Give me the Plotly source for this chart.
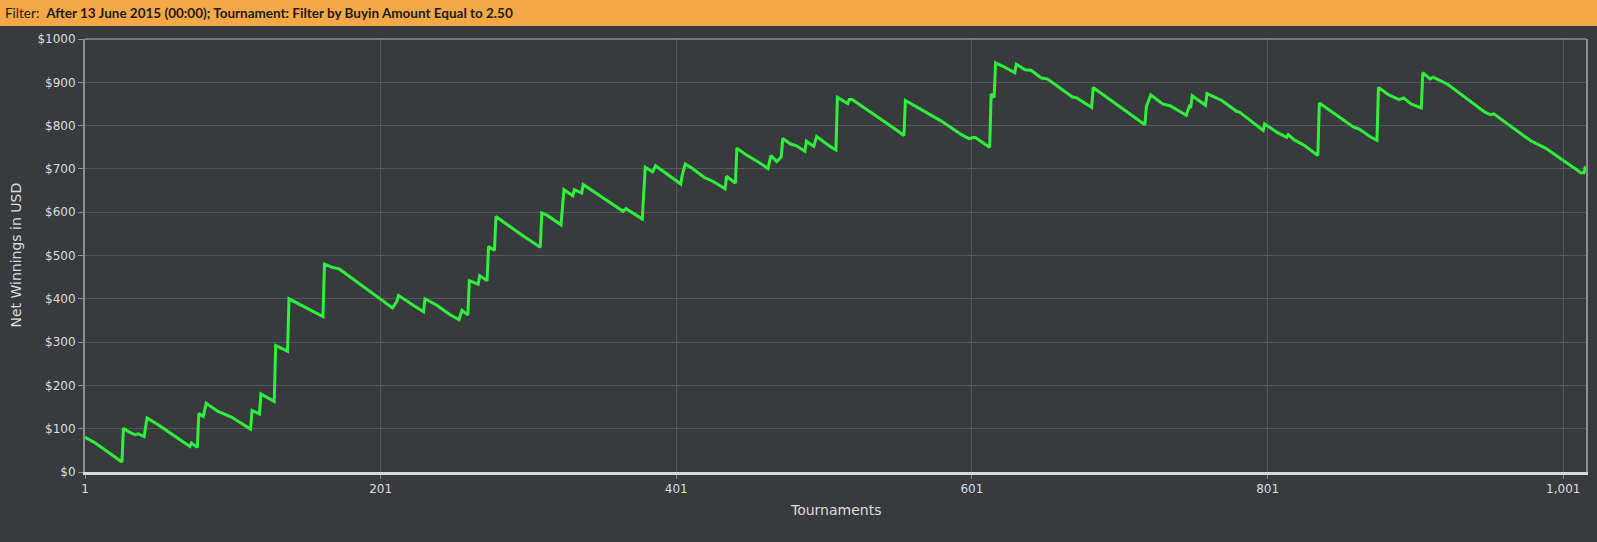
import plotly.graph_objects as go

# ---- data ----
tournament = [1, 8, 26, 27, 31, 35, 37, 41, 43, 51, 68, 72, 73, 77, 78, 81, 83, 91, 100, 113,
              114, 119, 120, 129, 130, 138, 139, 145, 156, 162, 163, 168, 173, 200, 209, 212,
              213, 223, 230, 231, 239, 248, 254, 256, 260, 261, 267, 268, 273, 274, 278, 279,
              297, 309, 310, 314, 323, 325, 331, 332, 337, 338, 350, 365, 367, 378, 380, 385,
              387, 404, 405, 407, 411, 420, 426, 434, 435, 441, 442, 448, 457, 463, 465, 469,
              472, 473, 478, 482, 488, 489, 494, 496, 505, 509, 510, 517, 518, 520, 549, 555,
              556, 564, 571, 580, 594, 599, 603, 604, 613, 614, 616, 617, 622, 630, 631, 637,
              641, 648, 652, 669, 672, 682, 683, 718, 719, 722, 730, 735, 746, 748, 749, 750,
              759, 760, 770, 780, 782, 798, 799, 808, 814, 815, 819, 826, 835, 836, 859, 863,
              871, 875, 876, 883, 890, 893, 898, 905, 906, 911, 913, 923, 948, 952, 954, 972,
              979, 989, 1003, 1013, 1015, 1016]
net_winnings = [80, 67, 23, 101, 92, 86, 88, 82, 125, 108, 68, 59, 67, 57, 135, 128, 159, 140, 127, 99,
                142, 134, 180, 163, 292, 279, 400, 389, 370, 359, 480, 473, 469, 402, 379, 394,
                408, 385, 370, 400, 385, 363, 352, 373, 363, 442, 434, 453, 442, 521, 512, 590,
                546, 519, 598, 592, 571, 652, 638, 652, 644, 664, 637, 602, 608, 584, 704, 693,
                707, 665, 685, 711, 703, 680, 671, 654, 683, 667, 748, 733, 715, 701, 731, 717,
                728, 770, 758, 754, 741, 764, 752, 775, 752, 744, 865, 851, 860, 860, 792, 777,
                858, 842, 829, 811, 779, 770, 773, 771, 750, 873, 865, 945, 937, 922, 942, 929,
                928, 910, 908, 866, 864, 842, 888, 802, 844, 871, 850, 846, 824, 844, 841, 869,
                847, 874, 858, 833, 831, 789, 804, 783, 773, 779, 767, 754, 731, 852, 797, 792,
                773, 766, 888, 871, 860, 864, 850, 841, 922, 908, 912, 895, 831, 825, 827, 783,
                765, 748, 714, 691, 691, 706]

x_tick_vals = [1, 201, 401, 601, 801, 1001]
x_tick_text = ["1", "201", "401", "601", "801", "1,001"]
y_tick_vals = [0, 100, 200, 300, 400, 500, 600, 700, 800, 900, 1000]
y_tick_text = ["$0", "$100", "$200", "$300", "$400", "$500", "$600", "$700", "$800", "$900", "$1000"]

header_text = "Filter:  <b>After 13 June 2015 (00:00); Tournament: Filter by Buyin Amount Equal to 2.50</b>"

# ---- layout geometry ----
W, H = 1597, 542
ML, MR, MT, MB = 85, 11, 39, 70
PW, PH = W - ML - MR, H - MT - MB

BG = "#383b3e"
TXT = "#dcdcdc"
GRID = "#54585c"

fig = go.Figure()
fig.add_trace(go.Scatter(
    x=tournament, y=net_winnings, mode="lines",
    line=dict(color="#2ff03a", width=3), hoverinfo="x+y", showlegend=False,
))

fig.update_layout(
    width=W, height=H,
    margin=dict(l=ML, r=MR, t=MT, b=MB, autoexpand=False),
    paper_bgcolor=BG, plot_bgcolor=BG,
    font=dict(family="DejaVu Sans", size=12, color=TXT),
    xaxis=dict(
        range=[1, 1016.4], tickvals=x_tick_vals, ticktext=x_tick_text,
        showgrid=True, gridcolor=GRID, gridwidth=1,
        showline=True, linecolor="#d9d9d9", linewidth=3,
        ticks="outside", ticklen=4, tickcolor="#8e8e8e",
        tickfont=dict(family="DejaVu Sans", size=12, color=TXT),
        zeroline=False, fixedrange=True,
    ),
    yaxis=dict(
        range=[0, 1000], tickvals=y_tick_vals, ticktext=y_tick_text,
        showgrid=True, gridcolor=GRID, gridwidth=1,
        showline=True, linecolor="#8e8e8e", linewidth=2, mirror=True,
        ticks="outside", ticklen=5, tickcolor="#8e8e8e",
        tickfont=dict(family="DejaVu Sans", size=12, color=TXT),
        zeroline=False, fixedrange=True,
    ),
)

# header bar
fig.add_shape(type="rect", xref="paper", yref="paper",
              x0=-ML / PW - 0.01, x1=1 + MR / PW + 0.01,
              y0=1 + (MT - 26) / PH, y1=1 + (MT + 2) / PH,
              fillcolor="#f4a946", line=dict(width=0), layer="above")
# top border of plot
fig.add_shape(type="line", xref="paper", yref="paper", x0=0, x1=1, y0=1, y1=1,
              line=dict(color="#8e8e8e", width=1.5), layer="above")

fig.add_annotation(text=header_text, xref="paper", yref="paper",
                   x=-ML / PW, y=1 + (MT - 13) / PH, xanchor="left", yanchor="middle",
                   xshift=3, showarrow=False,
                   font=dict(family="Lato", size=13.5, color="#1c1c1c"))

fig.add_annotation(text="Net Winnings in USD", xref="paper", yref="paper",
                   x=0, y=0.5, xshift=-70, textangle=-90, showarrow=False,
                   xanchor="center", yanchor="middle",
                   font=dict(family="DejaVu Sans", size=14, color=TXT))
fig.add_annotation(text="Tournaments", xref="paper", yref="paper",
                   x=0.5, y=0, yshift=-38, showarrow=False,
                   xanchor="center", yanchor="middle",
                   font=dict(family="DejaVu Sans", size=14, color=TXT))

fig.write_html(
    "out.html",
    config={"displayModeBar": False},
    post_script="document.body.style.margin='0';document.body.style.overflow='hidden';"
                "document.body.style.background='" + BG + "';",
)
